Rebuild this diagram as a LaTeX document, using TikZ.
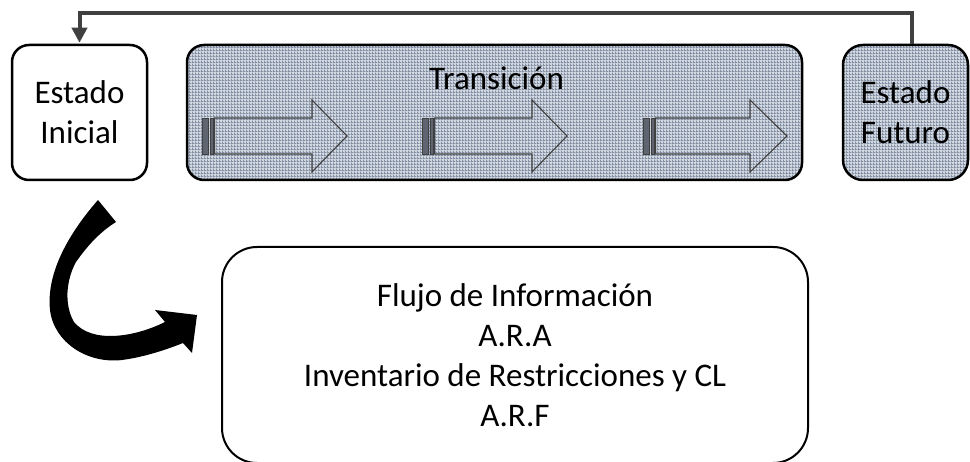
\documentclass[tikz,border=0pt]{standalone}
\usepackage{fontspec}
\setmainfont{Carlito}
\usetikzlibrary{arrows.meta,patterns.meta}
\definecolor{patlight}{HTML}{D3D8E0}
\definecolor{patdark}{HTML}{8290A6}
\definecolor{conn}{HTML}{404040}
\definecolor{bardark}{HTML}{5E6470}
\tikzdeclarepattern{
  name=finegrid, type=uncolored,
  bounding box={(0pt,0pt) and (3pt,3pt)},
  tile size={(3pt,3pt)},
  code={
    \pgfpathrectangle{\pgfpointorigin}{\pgfpoint{1pt}{3pt}}
    \pgfpathrectangle{\pgfpointorigin}{\pgfpoint{3pt}{1pt}}
    \pgfusepath{fill}
  }
}
\tikzset{
  box/.style={draw=black, line width=2.5pt, rounded corners=17pt, inner sep=0pt,
    align=center, font=\fontsize{33}{40}\selectfont},
  texture/.style={preaction={fill=patlight}, preaction={pattern={finegrid}, pattern color=patdark}},
  patbox/.style={box, texture},
  link/.style={draw=conn, line width=4pt, -{Triangle[length=15pt,width=15pt]}},
  blockarrow/.style={draw=conn, line width=1.1pt, texture},
  stripebar/.style={draw=conn, line width=0.8pt, fill=bardark},
  label33/.style={font=\fontsize{33}{40}\selectfont, inner sep=0pt},
}
\begin{document}
\begin{tikzpicture}[x=1pt,y=-1pt]
\useasboundingbox (0,0) rectangle (970,462);
% boxes
\node[box, minimum width=135pt, minimum height=135pt] (ini) at (79.5,112.5) {Estado\\Inicial};
\node[patbox, minimum width=615pt, minimum height=135pt] (tr) at (494.5,112.5) {};
\node[patbox, rounded corners=20pt, minimum width=125pt, minimum height=135pt] (fut) at (905.5,112.5) {Estado\\Futuro};
\node[label33, anchor=base] (trt) at (496.5,90) {Transición};
\node[box, line width=2pt, rounded corners=35pt, minimum width=586pt, minimum height=216pt] (bot) at (515,355)
  {Flujo de Información\\A.R.A\\Inventario de Restricciones y CL\\A.R.F};
% striped block arrows inside the transition
\foreach \x/\h/\t in {202/110/145, 422/110/145, 643/107/144} {
  \draw[blockarrow] (\x+12.5,118) -- (\x+\h,118) -- (\x+\h,100) -- (\x+\t,136)
    -- (\x+\h,172) -- (\x+\h,154) -- (\x+12.5,154) -- cycle;
  \draw[stripebar] (\x,118) rectangle (\x+6.5,154);
  \draw[stripebar] (\x+8.5,118) rectangle (\x+11,154);
}
% top feedback connector
\coordinate (topline) at (0,13);
\draw[link, shorten >=1pt] ([xshift=6.5pt]fut.north) -- ([xshift=6.5pt]fut.north |- topline) -| (ini.north);
% curved black arrow
\fill[black] (98,200) .. controls (70,232) and (46,272) .. (50,310)
  .. controls (54,343) and (88,364) .. (122,360)
  .. controls (145,357) and (168,349) .. (183,343)
  -- (192,353) -- (197,315) -- (155,310) -- (165,322)
  .. controls (135,337) and (92,344) .. (74,322)
  .. controls (64,305) and (66,280) .. (76,262)
  .. controls (88,245) and (100,232) .. (116,222) -- cycle;
\end{tikzpicture}
\end{document}
